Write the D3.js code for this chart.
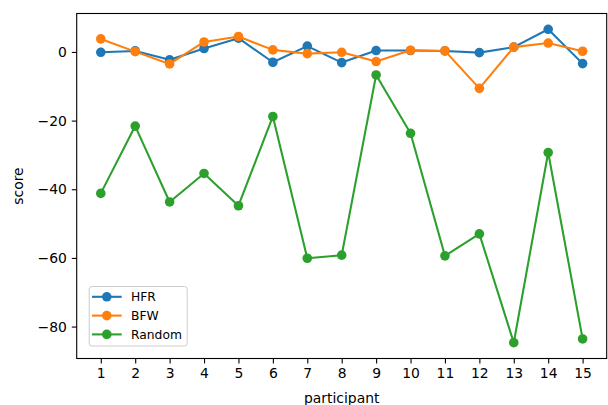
<!DOCTYPE html>
<html><head><meta charset="utf-8">
<script src="https://cdn.jsdelivr.net/npm/d3@7"></script>
<style>body{margin:0;background:#fff}svg{display:block}text{font-family:"DejaVu Sans",sans-serif}</style>
</head><body><svg id="c" width="608" height="405"></svg>
<script>
const participants = [1,2,3,4,5,6,7,8,9,10,11,12,13,14,15];
const hfr    = [-0.1, 0.3, -2.3, 1.0, 4.0, -3.0, 1.7, -3.1, 0.4, 0.4, 0.3, -0.2, 1.4, 6.6, -3.4];
const bfw    = [3.8, 0.1, -3.5, 2.9, 4.5, 0.6, -0.5, -0.1, -2.8, 0.5, 0.3, -10.6, 1.4, 2.6, 0.2];
const random = [-41.2, -21.6, -43.7, -35.4, -44.8, -18.8, -60.1, -59.2, -6.7, -23.7, -59.4, -53.0, -84.7, -29.3, -83.6];
const yTicks = [0, -20, -40, -60, -80];
const seriesNames = ["HFR", "BFW", "Random"];
const colors = ["#1f77b4", "#ff7f0e", "#2ca02c"];

const svg = d3.select("#c");
const L = 76.7, R = 606.7, T = 13.5, B = 358.5;
const x = d3.scaleLinear().domain([0.3, 15.7]).range([L, R]);
const y = d3.scaleLinear().domain([-89.3, 11.2]).range([B, T]);

const series = [hfr, bfw, random];
const line = d3.line().x((d,i)=>x(participants[i])).y(d=>y(d));
series.forEach((s, k) => {
  const g = svg.append("g");
  g.append("path").datum(s).attr("d", line).attr("fill","none")
    .attr("stroke", colors[k]).attr("stroke-width", 2.08).attr("stroke-linejoin","round");
  g.selectAll("circle").data(s).join("circle")
    .attr("cx",(d,i)=>x(participants[i])).attr("cy",d=>y(d)).attr("r",4.8).attr("fill",colors[k]);
});

// axes
const xAxis = d3.axisBottom(x).tickValues(participants).tickSize(4.9).tickPadding(4.9).tickFormat(d3.format("d"));
const gx = svg.append("g").attr("transform",`translate(0,${B})`).call(xAxis);
const yAxis = d3.axisLeft(y).tickValues(yTicks).tickSize(4.9).tickPadding(4.9).tickFormat(d => d < 0 ? "\u2212" + Math.abs(d) : String(d));
const gy = svg.append("g").attr("transform",`translate(${L},0)`).call(yAxis);
[gx, gy].forEach(g => {
  g.select(".domain").remove();
  g.selectAll(".tick line").attr("stroke","#000").attr("stroke-width",1.1);
  g.selectAll(".tick text").attr("font-size", 13.9).attr("fill","#000").attr("font-family","DejaVu Sans");
});
svg.append("rect").attr("x",L).attr("y",T).attr("width",R-L).attr("height",B-T)
  .attr("fill","none").attr("stroke","#000").attr("stroke-width",1.1);

svg.append("text").attr("x",(L+R)/2).attr("y",403).attr("text-anchor","middle").attr("font-size",13.9).text("participant");
svg.append("text").attr("transform",`translate(23,${(T+B)/2}) rotate(-90)`).attr("text-anchor","middle").attr("font-size",13.9).text("score");

// legend
const lg = svg.append("g");
lg.append("rect").attr("x",89.2).attr("y",286.5).attr("width",98).attr("height",59.5).attr("rx",2.8)
  .attr("fill","#fff").attr("fill-opacity",0.8).attr("stroke","#ccc").attr("stroke-width",1);
seriesNames.forEach((n,k) => {
  const yy = 296.8 + k*18.8;
  lg.append("line").attr("x1",92).attr("x2",121.7).attr("y1",yy).attr("y2",yy).attr("stroke",colors[k]).attr("stroke-width",2.08);
  lg.append("circle").attr("cx",106.8).attr("cy",yy).attr("r",4.8).attr("fill",colors[k]);
  lg.append("text").attr("x",131).attr("y",yy+4.5).attr("font-size",12.3).text(n);
});
</script></body></html>
